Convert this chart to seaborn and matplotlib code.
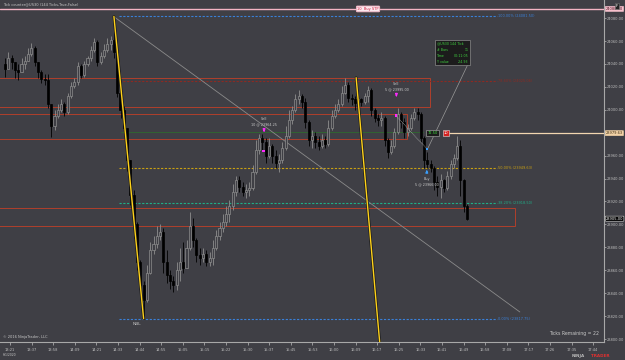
import numpy as np
import pandas as pd
import matplotlib
matplotlib.use("Agg")
import matplotlib.pyplot as plt
import matplotlib.patheffects as pe
from matplotlib.patches import Rectangle
import seaborn as sns

# ---------------- data ----------------
closes = [24036, 24045, 24042, 24035, 24033, 24040, 24043, 24049, 24054, 24042,
          24033, 24027, 24026, 24005, 23986, 23995, 24000, 24005, 23998, 24012,
          24021, 24024, 24038, 24030, 24040, 24045, 24052, 24059, 24042, 24047,
          24052, 24057, 24061, 24050, 24015, 24000, 23984, 23956, 23926, 23900,
          23867, 23847, 23834, 23858, 23878, 23883, 23890, 23893, 23867, 23856,
          23851, 23847, 23860, 23867, 23862, 23879, 23899, 23886, 23873, 23871,
          23874, 23867, 23871, 23879, 23890, 23897, 23902, 23909, 23916, 23928,
          23939, 23933, 23928, 23930, 23932, 23946, 23965, 23975, 23972, 23960,
          23968, 23960, 23954, 23956, 23967, 23977, 23991, 24000, 24009, 24012,
          24007, 23989, 23974, 23977, 23972, 23968, 23974, 23970, 23984, 23995,
          24000, 24005, 24015, 24022, 24010, 24009, 24006, 24009, 24007, 24012,
          24017, 24000, 23993, 23991, 23993, 23974, 23963, 23968, 23981, 23996,
          23989, 23981, 23984, 23993, 23998, 23996, 23975, 23956, 23953, 23949,
          23937, 23933, 23939, 23932, 23942, 23953, 23958, 23968, 23939, 23916,
          23905]
highs = [24045, 24050, 24048, 24042, 24040, 24045, 24047, 24054, 24058, 24056,
         24042, 24035, 24031, 24031, 24005, 24000, 24005, 24009, 24007, 24015,
         24024, 24028, 24042, 24040, 24043, 24047, 24056, 24063, 24061, 24050,
         24057, 24063, 24064, 24081.5, 24052, 24017, 24003, 23984, 23956, 23930,
         23902, 23869, 23851, 23865, 23885, 23890, 23899, 23900, 23897, 23878,
         23860, 23855, 23867, 23879, 23885, 23886, 23911, 23906, 23888, 23879,
         23879, 23878, 23876, 23886, 23895, 23902, 23909, 23916, 23921, 23935,
         23942, 23942, 23937, 23935, 23937, 23952, 23974, 23979, 23979, 23975,
         23975, 23970, 23965, 23961, 23972, 23986, 24000, 24003, 24014, 24017,
         24014, 24010, 23991, 23982, 23981, 23977, 23979, 23977, 23991, 24000,
         24005, 24009, 24021, 24028, 24024, 24014, 24012, 24012, 24010, 24015,
         24021, 24019, 24002, 23996, 23998, 23995, 23975, 23974, 23984, 24002,
         23998, 23993, 23988, 23996, 24002, 24002, 23998, 23977, 23963, 23956,
         23951, 23942, 23944, 23940, 23947, 23956, 23961, 23977, 23974, 23940,
         23918]
lows = [24029, 24038, 24036, 24028, 24026, 24033, 24036, 24043, 24047, 24038,
        24028, 24023, 24022, 24002, 23976, 23982, 23993, 23998, 23995, 23996,
        24010, 24019, 24022, 24028, 24029, 24038, 24043, 24050, 24038, 24040,
        24045, 24050, 24052, 24045, 24011, 23993, 23979, 23947, 23917, 23888,
        23860, 23840, 23817.75, 23832, 23857, 23874, 23879, 23886, 23858, 23849,
        23844, 23841, 23843, 23851, 23858, 23862, 23878, 23880, 23867, 23865,
        23867, 23864, 23864, 23865, 23878, 23886, 23893, 23899, 23902, 23913,
        23925, 23928, 23925, 23923, 23925, 23930, 23944, 23961, 23965, 23954,
        23958, 23954, 23949, 23946, 23954, 23965, 23975, 23988, 23998, 24005,
        24002, 23984, 23968, 23967, 23967, 23965, 23967, 23967, 23968, 23982,
        23993, 23998, 24003, 24014, 24007, 24004, 24000, 24003, 24003, 24005,
        24007, 23995, 23989, 23986, 23986, 23968, 23958, 23961, 23967, 23979,
        23984, 23975, 23977, 23982, 23991, 23991, 23972, 23949, 23949, 23946,
        23930, 23925, 23923, 23928, 23930, 23940, 23949, 23956, 23925, 23911,
        23904]
first_open = 24040

time_labels = ["13:21", "13:37", "13:58", "14:09", "14:21", "14:33", "14:44",
               "14:55", "15:05", "15:15", "15:22", "15:30", "15:37", "15:45",
               "15:53", "16:00", "16:09", "16:17", "16:25", "16:33", "16:41",
               "16:49", "16:58", "17:08", "17:17", "17:26", "17:35", "17:44"]
price_ticks = [23800, 23820, 23840, 23860, 23880, 23900, 23920, 23940, 23960,
               23980, 24000, 24020, 24040, 24060, 24080]

fib_names = ["100.00%", "78.60%", "61.80%", "50.00%", "38.20%", "0.00%"]
fib_prices = [24081.50, 24025.06, 23980.75, 23949.63, 23918.50, 23817.75]

zone_tops = [24027.7, 23996.3, 23914.3]
zone_bottoms = [24002.4, 23974.5, 23898.6]
zone_end_bars = [128.8, 121.8, 154.5]

exec_actions = ["Sell", "Sell", "Buy"]
exec_qty = [10, 5, 5]
exec_prices = [23964.25, 23995.00, 23966.00]
exec_bars = [78.3, 118.4, 127.8]

stop_price = 24088.00
target_price = 23979.63
target_pnl = "72.50"
target_qty = "10"

yellow1 = ([33, 42], [24081.5, 23817.75])
yellow2 = ([106.4, 113.6], [24028, 23795])
fib_diag = ([33.3, 156.0], [24080.6, 23823.6])
info_lines = [("@US30 144 Tick", ""), ("# Bars", "11"), ("Time", "00:11:05"), ("Y value", "-24.93")]

# ---------------- style ----------------
BG = "#3f3f45"
UP = "#8e8e8e"
TXT = "#c8c8c8"

sns.set_theme(style="dark", rc={"axes.facecolor": BG, "figure.facecolor": BG})
plt.rcParams["font.family"] = ["DejaVu Sans"]

fig = plt.figure(figsize=(6.25, 3.6), dpi=100)
ax = fig.add_axes([0, 0.05, 604 / 625, 0.95])
ax.set_facecolor(BG)
ax.grid(False)

df = pd.DataFrame({"bar": np.arange(len(closes)), "close": closes,
                   "high": highs, "low": lows})
df["open"] = [first_open] + closes[:-1]
up = df["close"] >= df["open"]

# zones
for top, bot, end in zip(zone_tops, zone_bottoms, zone_end_bars):
    ax.add_patch(Rectangle((-5, bot), end + 5, top - bot, fill=False,
                           ec="#b0402c", lw=0.7, zorder=1))

# fib levels
fib_cols = ["#3a80d8", "#8c2a22", "#2f6a2f", "#c9a012", "#1fae88", "#3a80d8"]
for name, p, c in zip(fib_names, fib_prices, fib_cols):
    if name == "61.80%":
        ax.plot([35, 126.7], [p, p], color=c, lw=0.6, zorder=1)
        continue
    ax.plot([34.5, 149.0], [p, p], color=c, lw=0.8, dashes=(2, 1.4), zorder=1)
    ax.text(149.3, p, f"{name} ({p:.2f})", color=c, fontsize=2.5,
            va="center", ha="left", zorder=3)

# diagonal grey fib line
ax.plot(fib_diag[0], fib_diag[1], color="#8a8a8a", lw=0.6, zorder=1)

# candles
ax.vlines(df["bar"][up], df["low"][up], df["high"][up], color=UP, lw=0.6, zorder=2)
ax.vlines(df["bar"][~up], df["low"][~up], df["high"][~up], color="black", lw=0.6, zorder=2)
ax.bar(df["bar"][up], (df["close"] - df["open"])[up], bottom=df["open"][up],
       width=0.62, facecolor=BG, edgecolor=UP, lw=0.5, zorder=3)
ax.bar(df["bar"][~up], (df["close"] - df["open"])[~up], bottom=df["open"][~up],
       width=0.62, facecolor="black", edgecolor="black", lw=0.5, zorder=3)

# yellow trend lines
for xs, ys in (yellow1, yellow2):
    ax.plot(xs, ys, color="#ffd21a", lw=1.0, zorder=5,
            path_effects=[pe.Stroke(linewidth=2.0, foreground="#1a1a1a"), pe.Normal()])

# stop line
ax.axhline(stop_price, color="#f4b4c4", lw=1.0, zorder=4)
ax.text(110, stop_price, "10  Buy STP", color="#d02040", fontsize=2.6, ha="center",
        va="center", zorder=6,
        bbox=dict(boxstyle="round,pad=0.25", fc="#fbe8ee", ec="#f4b4c4", lw=0.6))

# target order line
ax.plot([134.5, 200], [target_price, target_price], color="#f2d6b0", lw=0.9, zorder=4)
ax.text(129.6, target_price, target_pnl, color="#40e040", fontsize=2.6, ha="center",
        va="center", zorder=6,
        bbox=dict(boxstyle="square,pad=0.35", fc="#1c1c1c", ec="#9a9a9a", lw=0.5))
ax.text(133.6, target_price, target_qty, color="white", fontsize=2.6, ha="center",
        va="center", zorder=6,
        bbox=dict(boxstyle="square,pad=0.3", fc="#d42020", ec="#e0e0e0", lw=0.4))

# info box
ax.add_patch(Rectangle((130.3, 24039), 10.6, 22, fc="#1c1c1c", ec="#8a8a8a", lw=0.5, zorder=6))
for k, (lab, val) in enumerate(info_lines):
    yy = 24057.8 - k * 5.3
    ax.text(130.8, yy, lab, color="#3fcf3f", fontsize=2.3, va="center", ha="left", zorder=7)
    if val:
        ax.text(140.4, yy, val, color="#3fcf3f", fontsize=2.3, va="center", ha="right", zorder=7)
ax.plot([140.9, 127.9], [24043.5, 23965], color="#9a9a9a", lw=0.5, zorder=4)

# trade line sell -> buy
ax.plot([exec_bars[1], exec_bars[2]], [exec_prices[1], exec_prices[2]],
        color="#b0b0b0", lw=0.5, dashes=(1.2, 1.0), zorder=4)

# executions
ex = pd.DataFrame({"bar": exec_bars, "price": exec_prices, "action": exec_actions})
sns.scatterplot(data=ex, x="bar", y="price", hue="action", style="action",
                palette={"Sell": "#ff2aff", "Buy": "#3aa0ff"},
                markers={"Sell": "s", "Buy": "s"}, s=3, linewidth=0,
                legend=False, ax=ax, zorder=7)
arrow_cols = {"Sell": "#ff2aff", "Buy": "#3aa0ff"}
for act, q, p, b in zip(exec_actions, exec_qty, exec_prices, exec_bars):
    c = arrow_cols[act]
    if act == "Sell":
        ya = p + 17
        ax.annotate("", xy=(b + 0.2, ya - 3), xytext=(b + 0.2, ya + 3),
                    arrowprops=dict(arrowstyle="-|>", color=c, lw=1.0, mutation_scale=3), zorder=7)
        ax.text(b + 0.2, ya + 10.5, act, color=TXT, fontsize=2.4, ha="center", va="center")
        ax.text(b + 0.2, ya + 6.0, f"{q} @ {p:.2f}", color=TXT, fontsize=2.4, ha="center", va="center")
    else:
        ya = p - 19
        ax.annotate("", xy=(b, ya + 3), xytext=(b, ya - 3),
                    arrowprops=dict(arrowstyle="-|>", color=c, lw=1.0, mutation_scale=3), zorder=7)
        ax.text(b, ya - 7.5, act, color=TXT, fontsize=2.4, ha="center", va="center")
        ax.text(b, ya - 12.0, f"{q} @ {p:.2f}", color=TXT, fontsize=2.4, ha="center", va="center")

ax.text(40, lows[42] - 4.5, "NBL", color=TXT, fontsize=3.2, ha="center", va="center")

# axes
ax.set_xlabel("")
ax.set_ylabel("")
ax.set_xlim(-1.515, 181.5)
ax.set_ylim(23797.4, 24095.8)
tick_first, tick_step = 1.515, 6.545
ax.set_xticks([tick_first + k * tick_step for k in range(len(time_labels))])
ax.set_xticklabels(time_labels)
ax.set_yticks(price_ticks)
ax.set_yticklabels([f"{t:.2f}" for t in price_ticks])
ax.yaxis.tick_right()
ax.tick_params(axis="y", direction="out", length=1.3, width=0.5, colors="#bdbdbd",
               labelsize=2.6, pad=0.6, right=True, left=False)
ax.tick_params(axis="x", direction="out", length=1.8, width=0.5, colors="#bdbdbd",
               labelsize=2.6, pad=2.2, bottom=True)
for s in ("top", "left"):
    ax.spines[s].set_visible(False)
for s in ("right", "bottom"):
    ax.spines[s].set_visible(True)
    ax.spines[s].set_color("#a8a8a8")
    ax.spines[s].set_linewidth(0.8)

ytr = ax.get_yaxis_transform()
for price, fc, tc, ec in ((stop_price, "#f6c0cc", "#4a1020", "#f6c0cc"),
                          (target_price, "#f2d2a6", "#3a2a10", "#f2d2a6"),
                          (closes[-1], "black", "white", "#dddddd")):
    ax.text(1.003, price, f"{price:.2f}", transform=ytr, fontsize=2.6, color=tc,
            va="center", ha="left", clip_on=False, zorder=8,
            bbox=dict(boxstyle="round,pad=0.15", fc=fc, ec=ec, lw=0.4))

# figure texts
fig.text(3 / 625, 1 - 4 / 360, "Tick counter@US30 (144 Ticks,True,False)", color=TXT,
         fontsize=2.6, ha="left", va="center")
fig.text(3 / 625, 1 - 337 / 360, "© 2016 NinjaTrader, LLC", color=TXT, fontsize=2.6,
         ha="left", va="center")
fig.text(3 / 625, 1 - 355 / 360, "6/1/2020", color=TXT, fontsize=2.2, ha="left", va="center")
fig.text(599 / 625, 1 - 334 / 360, "Ticks Remaining = 22", color=TXT, fontsize=3.3,
         ha="right", va="center")
fig.text(572 / 625, 1 - 356 / 360, "NINJA", color="#b8b8b8", fontsize=3.0, ha="left",
         va="center", weight="bold")
fig.text(591 / 625, 1 - 356 / 360, "TRADER", color="#e03030", fontsize=3.0, ha="left",
         va="center", weight="bold")
fig.text(617 / 625, 1 - 6 / 360, "F", color="white", fontsize=3, ha="center", va="center",
         bbox=dict(boxstyle="square,pad=0.3", fc="#222222", ec="#777777", lw=0.4))

fig.savefig("out.png", dpi=100, facecolor=BG)
